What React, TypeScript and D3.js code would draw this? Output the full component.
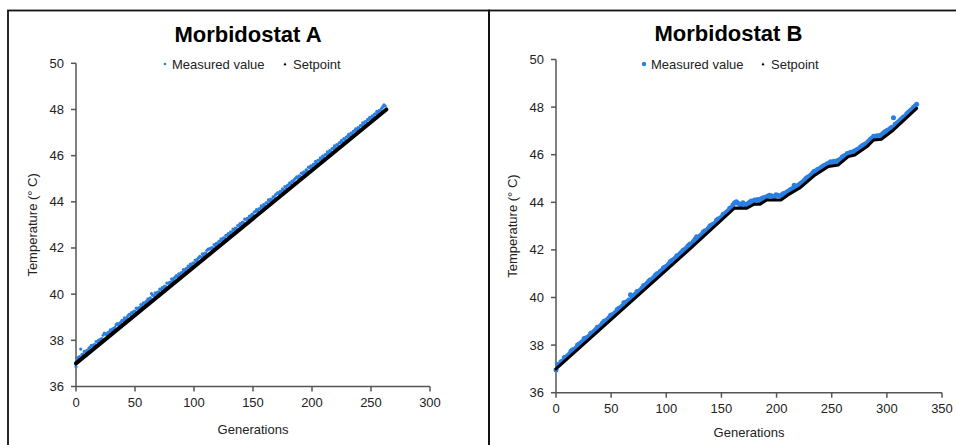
import React from "react";
import * as d3 from "d3";

// ---------- Data ----------
const xTicksA = [0, 50, 100, 150, 200, 250, 300];
const xTicksB = [0, 50, 100, 150, 200, 250, 300, 350];
const yTicks = [36, 38, 40, 42, 44, 46, 48, 50];

// Morbidostat A: measured readings (even generations, from 0, step 2)
const measuredA_even = [
  36.86, 37.26, 37.62, 37.40, 37.48, 37.55, 37.71, 37.76, 37.82, 37.93,
  38.02, 38.08, 38.31, 38.25, 38.36, 38.42, 38.51, 38.68, 38.66, 38.79,
  38.85, 38.90, 39.06, 39.11, 39.18, 39.27, 39.36, 39.42, 39.50, 39.58,
  39.71, 39.75, 40.02, 39.95, 40.03, 40.10, 40.19, 40.26, 40.33, 40.47,
  40.52, 40.60, 40.74, 40.77, 40.83, 40.95, 41.01, 41.12, 41.19, 41.25,
  41.36, 41.44, 41.58, 41.61, 41.66, 41.78, 41.95, 41.97, 42.01, 42.10,
  42.18, 42.31, 42.34, 42.43, 42.55, 42.60, 42.69, 42.77, 42.84, 42.96,
  43.02, 43.10, 43.23, 43.27, 43.36, 43.42, 43.58, 43.60, 43.71, 43.77,
  43.84, 43.95, 44.04, 44.10, 44.19, 44.35, 44.36, 44.45, 44.52, 44.60,
  44.74, 44.78, 44.86, 45.02, 45.03, 45.10, 45.21, 45.27, 45.35, 45.48,
  45.52, 45.63, 45.68, 45.80, 45.86, 45.92, 46.05, 46.10, 46.18, 46.30,
  46.35, 46.44, 46.56, 46.60, 46.70, 46.82, 46.86, 46.94, 47.07, 47.11,
  47.18, 47.30, 47.36, 47.45, 47.58, 47.62, 47.70, 47.81, 47.86, 47.95,
  48.12, 48.15,
];
// Morbidostat A: measured readings (odd generations, from 1, step 2)
const measuredA_odd = [
  37.22, 37.30, 37.38, 37.52, 37.55, 37.66, 37.78, 37.80, 37.95, 38.00,
  38.05, 38.22, 38.28, 38.33, 38.45, 38.50, 38.56, 38.72, 38.74, 38.86,
  38.97, 38.98, 39.12, 39.20, 39.26, 39.40, 39.41, 39.55, 39.62, 39.66,
  39.80, 39.84, 39.95, 40.06, 40.08, 40.22, 40.28, 40.35, 40.48, 40.50,
  40.66, 40.68, 40.80, 40.88, 40.92, 41.06, 41.10, 41.22, 41.30, 41.35,
  41.48, 41.52, 41.64, 41.75, 41.77, 41.90, 41.96, 42.02, 42.15, 42.20,
  42.28, 42.40, 42.44, 42.55, 42.62, 42.70, 42.82, 42.86, 42.97, 43.06,
  43.12, 43.25, 43.28, 43.38, 43.46, 43.55, 43.66, 43.70, 43.82, 43.88,
  43.96, 44.08, 44.12, 44.22, 44.30, 44.40, 44.45, 44.56, 44.66, 44.70,
  44.82, 44.90, 44.96, 45.08, 45.12, 45.24, 45.30, 45.38, 45.50, 45.56,
  45.62, 45.75, 45.80, 45.90, 45.98, 46.04, 46.16, 46.22, 46.30, 46.42,
  46.48, 46.55, 46.66, 46.74, 46.80, 46.92, 46.98, 47.05, 47.16, 47.22,
  47.30, 47.42, 47.48, 47.56, 47.66, 47.72, 47.80, 47.92, 47.96, 48.05,
  48.20,
];
const setpointGensA = [0, 263];
const setpointA = [37.0, 48.0];

// Morbidostat B: measured readings (from 0, step 3)
const measuredB_a = [
  36.95, 37.20, 37.33, 37.50, 37.62, 37.80, 37.88, 38.05, 38.15, 38.30,
  38.38, 38.52, 38.66, 38.75, 38.92, 39.02, 39.15, 39.28, 39.38, 39.55,
  39.64, 39.80, 39.90, 40.02, 40.15, 40.26, 40.40, 40.52, 40.68, 40.76,
  40.93, 41.02, 41.15, 41.28, 41.40, 41.55, 41.65, 41.78, 41.92, 42.02,
  42.18, 42.26, 42.45, 42.52, 42.65, 42.80, 42.90, 43.05, 43.12, 43.30,
  43.38, 43.52, 43.64, 43.78, 43.98, 43.96, 43.90, 43.92, 43.95, 44.05,
  44.10, 44.12, 44.15, 44.20, 44.25, 44.28, 44.22, 44.30, 44.25, 44.38,
  44.45, 44.55, 44.72, 44.70, 44.80, 44.92, 45.05, 45.15, 45.30, 45.38,
  45.45, 45.55, 45.62, 45.70, 45.72, 45.75, 45.82, 45.95, 46.05, 46.10,
  46.15, 46.22, 46.32, 46.42, 46.50, 46.65, 46.78, 46.80, 46.82, 46.92,
  47.02, 47.10, 47.55, 47.32, 47.45, 47.58, 47.72, 47.85, 47.98, 48.12,
];
// Morbidostat B: measured readings (from 1.5, step 3)
const measuredB_b = [
  37.18, 37.30, 37.48, 37.55, 37.74, 37.82, 38.00, 38.10, 38.28, 38.32,
  38.50, 38.58, 38.75, 38.82, 39.00, 39.08, 39.25, 39.32, 39.50, 39.58,
  39.78, 39.82, 40.12, 40.08, 40.25, 40.32, 40.50, 40.60, 40.75, 40.84,
  41.00, 41.10, 41.25, 41.32, 41.50, 41.60, 41.75, 41.85, 42.00, 42.10,
  42.25, 42.35, 42.55, 42.58, 42.75, 42.82, 43.00, 43.08, 43.25, 43.32,
  43.50, 43.58, 43.75, 43.90, 44.02, 43.92, 43.98, 43.88, 44.00, 44.02,
  44.10, 44.05, 44.18, 44.22, 44.30, 44.25, 44.32, 44.28, 44.35, 44.40,
  44.50, 44.58, 44.62, 44.75, 44.85, 45.00, 45.08, 45.22, 45.32, 45.40,
  45.50, 45.58, 45.65, 45.68, 45.70, 45.78, 45.90, 45.98, 46.05, 46.10,
  46.18, 46.25, 46.38, 46.45, 46.58, 46.70, 46.75, 46.78, 46.85, 46.98,
  47.05, 47.15, 47.28, 47.38, 47.52, 47.62, 47.78, 47.90, 48.05,
];
const setpointGensB = [0, 40, 80, 120, 162, 173, 180, 185, 191, 204, 210, 221, 235, 247, 256, 265, 271, 282, 288, 295, 306, 327];
const setpointB = [37.0, 38.66, 40.32, 41.98, 43.76, 43.75, 43.93, 43.92, 44.1, 44.1, 44.3, 44.6, 45.15, 45.5, 45.57, 45.92, 45.99, 46.34, 46.62, 46.65, 47.04, 47.95];

const BLUE = "#2a7fe3";
const AXIS = "#555";
const TEXT = "#222";
const FONT = "Liberation Sans, Arial, sans-serif";

type Series = { values: number[]; start: number; step: number };

type PanelProps = {
  title: string;
  titleX: number;
  titleY: number;
  xDomain: [number, number];
  xRange: [number, number];
  yRange: [number, number];
  xTicks: number[];
  series: Series[];
  spGens: number[];
  sp: number[];
  dotR: number;
  lineW: number;
  legendY: number;
  legendX1: number;
  legendX2: number;
  legendR: number;
  yLabelX: number;
  xLabelY: number;
  xTickLabelOffset: number;
};

function Panel(p: PanelProps) {
  const x = d3.scaleLinear().domain(p.xDomain).range(p.xRange);
  const y = d3.scaleLinear().domain([36, 50]).range(p.yRange);
  const pts: [number, number][] = [];
  p.series.forEach((s) => s.values.forEach((v, i) => pts.push([s.start + i * s.step, v])));
  const spPts = p.spGens.map((g, i) => [g, p.sp[i]] as [number, number]);
  const line = d3.line<[number, number]>().x((d) => x(d[0])).y((d) => y(d[1]));
  const x0 = p.xRange[0];
  const y0 = p.yRange[0];
  return (
    <g>
      <text x={p.titleX} y={p.titleY} textAnchor="middle" fontFamily={FONT} fontWeight="bold" fontSize={22} fill="#000">
        {p.title}
      </text>
      {/* legend */}
      <circle cx={p.legendX1} cy={p.legendY} r={p.legendR} fill={BLUE} />
      <text x={p.legendX1 + 7} y={p.legendY + 4.5} fontFamily={FONT} fontSize={13} fill={TEXT}>
        Measured value
      </text>
      <path d={`M${p.legendX2 - 1.6},${p.legendY + 1.3} L${p.legendX2},${p.legendY - 1.5} L${p.legendX2 + 1.6},${p.legendY + 1.3} Z`} fill="#000" />
      <text x={p.legendX2 + 8} y={p.legendY + 4.5} fontFamily={FONT} fontSize={13} fill={TEXT}>
        Setpoint
      </text>
      {/* axes */}
      <line x1={x0} x2={x0} y1={p.yRange[1]} y2={y0} stroke={AXIS} strokeWidth={1.5} />
      <line x1={x0} x2={p.xRange[1]} y1={y0} y2={y0} stroke={AXIS} strokeWidth={1.5} />
      {yTicks.map((t) => (
        <g key={"y" + t}>
          <line x1={x0 - 5} x2={x0} y1={y(t)} y2={y(t)} stroke={AXIS} strokeWidth={1.5} />
          <text x={x0 - 12} y={y(t) + 4.5} textAnchor="end" fontFamily={FONT} fontSize={13} fill={TEXT}>
            {t}
          </text>
        </g>
      ))}
      {p.xTicks.map((t) => (
        <g key={"x" + t}>
          <line x1={x(t)} x2={x(t)} y1={y0} y2={y0 + 5} stroke={AXIS} strokeWidth={1.5} />
          <text x={x(t)} y={y0 + p.xTickLabelOffset} textAnchor="middle" fontFamily={FONT} fontSize={13} fill={TEXT}>
            {t}
          </text>
        </g>
      ))}
      <text x={(p.xRange[0] + p.xRange[1]) / 2} y={p.xLabelY} textAnchor="middle" fontFamily={FONT} fontSize={13} fill={TEXT}>
        Generations
      </text>
      <text
        transform={`translate(${p.yLabelX},${(p.yRange[0] + p.yRange[1]) / 2}) rotate(-90)`}
        textAnchor="middle"
        fontFamily={FONT}
        fontSize={13}
        fill={TEXT}
      >
        Temperature (° C)
      </text>
      {/* data */}
      {pts.map((d, i) => (
        <circle key={i} cx={x(d[0])} cy={y(d[1])} r={p.dotR} fill={BLUE} />
      ))}
      <path d={line(spPts) || ""} fill="none" stroke="#000" strokeWidth={p.lineW} strokeLinejoin="round" strokeLinecap="round" />
    </g>
  );
}

export default function App() {
  return (
    <svg width={956} height={445} style={{ position: "absolute", left: 0, top: 0, background: "#fff" }}>
      <rect x={0} y={0} width={956} height={445} fill="#fff" />
      <rect x={8} y={10.5} width={481} height={460} fill="none" stroke="#111" strokeWidth={1.8} />
      <rect x={489} y={10.5} width={480} height={460} fill="none" stroke="#111" strokeWidth={1.8} />
      <Panel
        title="Morbidostat A"
        titleX={248}
        titleY={41.5}
        xDomain={[0, 300]}
        xRange={[76, 430]}
        yRange={[386.5, 63.3]}
        xTicks={xTicksA}
        series={[
          { values: measuredA_even, start: 0, step: 2 },
          { values: measuredA_odd, start: 1, step: 2 },
        ]}
        spGens={setpointGensA}
        sp={setpointA}
        dotR={1.6}
        lineW={4}
        legendY={64}
        legendX1={165}
        legendX2={285}
        legendR={1.3}
        yLabelX={37}
        xLabelY={434}
        xTickLabelOffset={20}
      />
      <Panel
        title="Morbidostat B"
        titleX={728.5}
        titleY={40.5}
        xDomain={[0, 350]}
        xRange={[556, 942]}
        yRange={[392.7, 59.5]}
        xTicks={xTicksB}
        series={[
          { values: measuredB_a, start: 0, step: 3 },
          { values: measuredB_b, start: 1.5, step: 3 },
        ]}
        spGens={setpointGensB}
        sp={setpointB}
        dotR={2.5}
        lineW={3}
        legendY={64}
        legendX1={644}
        legendX2={763}
        legendR={2.2}
        yLabelX={517}
        xLabelY={437}
        xTickLabelOffset={20.5}
      />
    </svg>
  );
}
